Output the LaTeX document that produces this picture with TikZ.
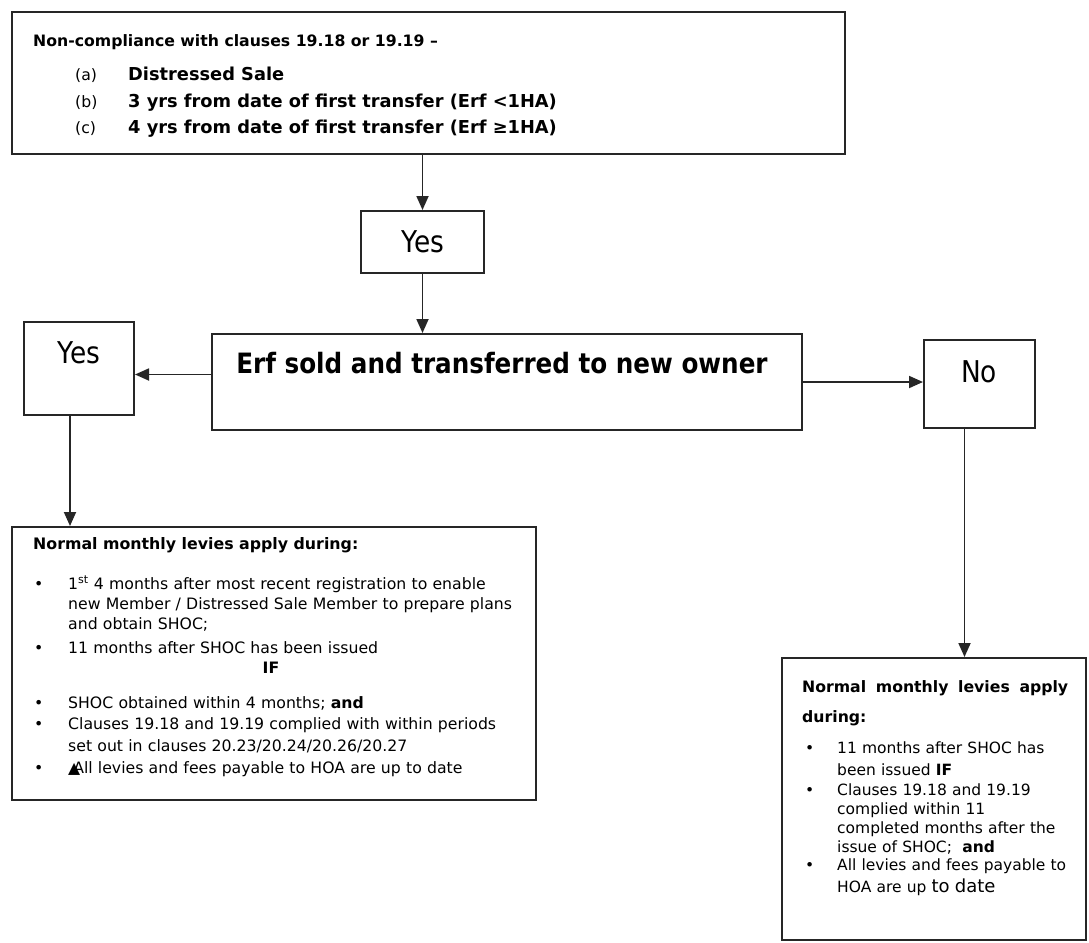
\documentclass[tikz,border=0pt]{standalone}
\usepackage{fontspec}
\setmainfont{DejaVu Sans}
\newfontfamily\narrowfont[FakeStretch=0.88]{DejaVu Sans}
\usepackage{tikz}
\usetikzlibrary{arrows.meta}
\newcommand\bodysz{\fontsize{15.7}{20}\selectfont}
\newcommand\itemsz{\fontsize{17.8}{22}\selectfont}
\newcommand\bigsz{\narrowfont\fontsize{28}{32}\selectfont}
\newcommand\yessz{\narrowfont\fontsize{30}{34}\selectfont}
\newcommand\bul[2][34pt]{\noindent\hangindent=#1\hangafter=1\makebox[#1][l]{\textbullet}#2\par}

\begin{document}
\begin{tikzpicture}[x=1pt,y=-1pt,
	box/.style={draw=black!85,line width=2pt,inner sep=0pt},
	arr/.style={draw=black!85,line width=1.8pt,-{Triangle[length=14pt,width=12pt]}},
	txt/.style={anchor=base west,inner sep=0pt,font=\bodysz},
	para/.style={txt,text width=#1}]
	\useasboundingbox (0,0) rectangle (1089,942);
	\fill[white] (0,0) rectangle (1089,942);
	\node[box,minimum width=833pt,minimum height=142pt] (cond) at (428.5,83) {};
	\node[box,minimum width=123pt,minimum height=62pt] (yes1) at (422.5,242) {};
	\node[box,minimum width=590pt,minimum height=96pt] (sold) at (507,382) {};
	\node[box,minimum width=110pt,minimum height=93pt] (yesl) at (79,368.5) {};
	\node[box,minimum width=111pt,minimum height=88pt] (no) at (979.5,384) {};
	\node[box,minimum width=524pt,minimum height=273pt] (lbox) at (274,663.5) {};
	\node[box,minimum width=304pt,minimum height=282pt] (rbox) at (934,799) {};

	\node[txt,font=\bodysz\bfseries] (condhd) at (33,47) {Non-compliance with clauses 19.18 or 19.19 –};
	\node[txt] (lba) at (75,81) {(a)};
	\node[txt] (lbb) at (75,107) {(b)};
	\node[txt] (lbc) at (75,133) {(c)};
	\node[txt,font=\itemsz\bfseries] (ita) at (128,81) {Distressed Sale};
	\node[txt,font=\itemsz\bfseries] (itb) at (128,107) {3 yrs from date of first transfer (Erf <1HA)};
	\node[txt,font=\itemsz\bfseries] (itc) at (128,133) {4 yrs from date of first transfer (Erf ≥1HA)};

	\node[anchor=base,inner sep=0pt,font=\yessz] (yes1t) at (423,252) {Yes};
	\node[anchor=base,inner sep=0pt,font=\yessz] (yeslt) at (79,363) {Yes};
	\node[anchor=base,inner sep=0pt,font=\yessz] (not) at (979,382) {No};
	\node[anchor=base,inner sep=0pt,font=\bigsz\bfseries] (soldt) at (502,373) {Erf sold and transferred to new owner};

	\node[txt,font=\fontsize{15.8}{20}\selectfont\bfseries] (lhd) at (33,549) {Normal monthly levies apply during:};
	\node[para=490pt] (l1) at (34,589) {\bul{1\textsuperscript{st} 4 months after most recent registration to enable\newline new Member / Distressed Sale Member to prepare plans\newline and obtain SHOC;}};
	\node[para=490pt] (l2) at (34,653) {\bul{11 months after SHOC has been issued}};
	\node[anchor=base,inner sep=0pt,font=\bodysz\bfseries] (lif) at (271,673) {IF};
	\node[para=490pt] (l3) at (34,708) {\bul{SHOC obtained within 4 months; \textbf{and}}};
	\node[para=490pt,font=\fontsize{15.7}{22}\selectfont] (l4) at (34,729) {\bul{Clauses 19.18 and 19.19 complied with within periods\newline set out in clauses 20.23/20.24/20.26/20.27}};
	\node[para=490pt] (l5) at (34,773) {\bul{▲\kern-7pt All levies and fees payable to HOA are up to date}};

	\node[txt,font=\bodysz\bfseries] (rhd) at (802,692) {\makebox[266pt][s]{Normal monthly levies apply}};
	\node[txt,font=\bodysz\bfseries] (rhd2) at (802,722) {during:};
	\node[para=270pt,font=\fontsize{15.5}{22}\selectfont] (r1) at (805,753) {\bul[32pt]{11 months after SHOC has\newline been issued \textbf{IF}}};
	\node[para=270pt,font=\fontsize{15.5}{19}\selectfont] (r2) at (805,795) {\bul[32pt]{Clauses 19.18 and 19.19\newline complied within 11\newline completed months after the\newline issue of SHOC;\ \ \textbf{and}}};
	\node[para=270pt,font=\fontsize{15.5}{22}\selectfont] (r3) at (805,870) {\bul[32pt]{All levies and fees payable to\newline HOA are up {\fontsize{18}{22}\selectfont to date}}};

	\coordinate (lhit) at ([yshift=-6pt]yesl.east);
	\coordinate (ldrop) at ([xshift=-9pt]yesl.south);
	\coordinate (rdrop) at ([xshift=-15pt]no.south);
	\draw[arr] (yes1.north |- cond.south) -- (yes1.north);
	\draw[arr] (yes1.south) -- (yes1.south |- sold.north);
	\draw[arr] (sold.west |- lhit) -- (lhit);
	\draw[arr] (sold.east) -- (no.west |- sold.east);
	\draw[arr] (ldrop) -- (ldrop |- lbox.north);
	\draw[arr] (rdrop) -- (rdrop |- rbox.north);
\end{tikzpicture}
\end{document}
